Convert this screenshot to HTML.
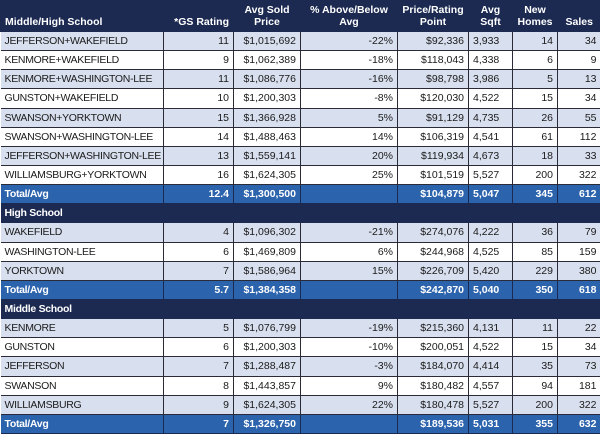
<!DOCTYPE html>
<html><head><meta charset="utf-8"><style>
body{margin:0;width:600px;height:433px;overflow:hidden;background:#fff;font-family:"Liberation Sans",sans-serif}
table{border-collapse:collapse;table-layout:fixed;width:600px;font-size:10.5px}
td,th{padding:0 4px;white-space:nowrap;overflow:hidden;border-left:1px solid #2b2b38;border-bottom:1px solid #2b2b38;height:18.15px;line-height:18px;vertical-align:middle;color:#1a1a1a}
th{background:#1c2a52;color:#fff;font-weight:bold;height:28px;border-color:#1c2a52;line-height:12px;white-space:normal;text-align:center;padding:0 2px;font-size:10.5px}
th.l{text-align:left;vertical-align:bottom;padding-bottom:3px;padding-left:4px}
td{text-align:right}
td:first-child{text-align:left;border-left:none;letter-spacing:-0.3px}
td.s{text-align:left}
tr.a td{background:#d8dfee}
tr.w td{background:#fff}
tr.t td{background:#2b63ad;color:#fff;font-weight:bold;border-color:#1c2a52}
tr.h td{background:#1c2a52;color:#fff;font-weight:bold;border-color:#1c2a52}
</style></head><body>
<table>
<colgroup><col style="width:163px"><col style="width:70px"><col style="width:67px"><col style="width:97px"><col style="width:71px"><col style="width:44px"><col style="width:45px"><col style="width:43px"></colgroup>
<tr><th class="l">Middle/High School</th><th style="vertical-align:bottom;padding-bottom:3px;text-align:right;padding-right:4px">*GS Rating</th><th>Avg Sold Price</th><th>% Above/Below Avg</th><th>Price/Rating Point</th><th>Avg Sqft</th><th>New Homes</th><th style="vertical-align:bottom;padding-bottom:3px">Sales</th></tr>
<tr class="a"><td>JEFFERSON+WAKEFIELD</td><td>11</td><td>$1,015,692</td><td>-22%</td><td>$92,336</td><td class="s">3,933</td><td>14</td><td>34</td></tr>
<tr class="w"><td>KENMORE+WAKEFIELD</td><td>9</td><td>$1,062,389</td><td>-18%</td><td>$118,043</td><td class="s">4,338</td><td>6</td><td>9</td></tr>
<tr class="a"><td>KENMORE+WASHINGTON-LEE</td><td>11</td><td>$1,086,776</td><td>-16%</td><td>$98,798</td><td class="s">3,986</td><td>5</td><td>13</td></tr>
<tr class="w"><td>GUNSTON+WAKEFIELD</td><td>10</td><td>$1,200,303</td><td>-8%</td><td>$120,030</td><td class="s">4,522</td><td>15</td><td>34</td></tr>
<tr class="a"><td>SWANSON+YORKTOWN</td><td>15</td><td>$1,366,928</td><td>5%</td><td>$91,129</td><td class="s">4,735</td><td>26</td><td>55</td></tr>
<tr class="w"><td>SWANSON+WASHINGTON-LEE</td><td>14</td><td>$1,488,463</td><td>14%</td><td>$106,319</td><td class="s">4,541</td><td>61</td><td>112</td></tr>
<tr class="a"><td>JEFFERSON+WASHINGTON-LEE</td><td>13</td><td>$1,559,141</td><td>20%</td><td>$119,934</td><td class="s">4,673</td><td>18</td><td>33</td></tr>
<tr class="w"><td>WILLIAMSBURG+YORKTOWN</td><td>16</td><td>$1,624,305</td><td>25%</td><td>$101,519</td><td class="s">5,527</td><td>200</td><td>322</td></tr>
<tr class="t"><td>Total/Avg</td><td>12.4</td><td>$1,300,500</td><td></td><td>$104,879</td><td class="s">5,047</td><td>345</td><td>612</td></tr>
<tr class="h"><td colspan="8">High School</td></tr>
<tr class="a"><td>WAKEFIELD</td><td>4</td><td>$1,096,302</td><td>-21%</td><td>$274,076</td><td class="s">4,222</td><td>36</td><td>79</td></tr>
<tr class="w"><td>WASHINGTON-LEE</td><td>6</td><td>$1,469,809</td><td>6%</td><td>$244,968</td><td class="s">4,525</td><td>85</td><td>159</td></tr>
<tr class="a"><td>YORKTOWN</td><td>7</td><td>$1,586,964</td><td>15%</td><td>$226,709</td><td class="s">5,420</td><td>229</td><td>380</td></tr>
<tr class="t"><td>Total/Avg</td><td>5.7</td><td>$1,384,358</td><td></td><td>$242,870</td><td class="s">5,040</td><td>350</td><td>618</td></tr>
<tr class="h"><td colspan="8">Middle School</td></tr>
<tr class="a"><td>KENMORE</td><td>5</td><td>$1,076,799</td><td>-19%</td><td>$215,360</td><td class="s">4,131</td><td>11</td><td>22</td></tr>
<tr class="w"><td>GUNSTON</td><td>6</td><td>$1,200,303</td><td>-10%</td><td>$200,051</td><td class="s">4,522</td><td>15</td><td>34</td></tr>
<tr class="a"><td>JEFFERSON</td><td>7</td><td>$1,288,487</td><td>-3%</td><td>$184,070</td><td class="s">4,414</td><td>35</td><td>73</td></tr>
<tr class="w"><td>SWANSON</td><td>8</td><td>$1,443,857</td><td>9%</td><td>$180,482</td><td class="s">4,557</td><td>94</td><td>181</td></tr>
<tr class="a"><td>WILLIAMSBURG</td><td>9</td><td>$1,624,305</td><td>22%</td><td>$180,478</td><td class="s">5,527</td><td>200</td><td>322</td></tr>
<tr class="t"><td>Total/Avg</td><td>7</td><td>$1,326,750</td><td></td><td>$189,536</td><td class="s">5,031</td><td>355</td><td>632</td></tr>
</table>
</body></html>
